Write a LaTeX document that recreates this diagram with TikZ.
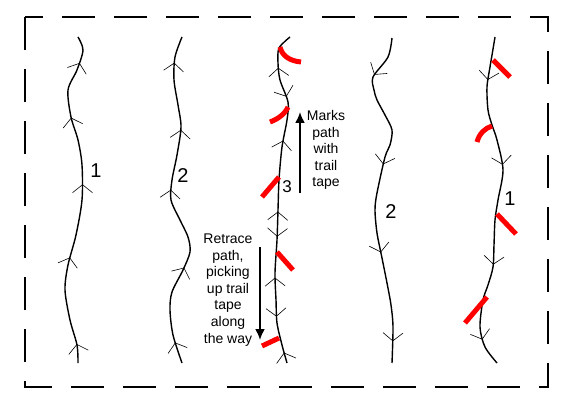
\documentclass[tikz,border=0pt]{standalone}
\usepackage{fontspec}
\setmainfont{Liberation Sans}
\usetikzlibrary{arrows.meta, decorations.markings}

\begin{document}
\begin{tikzpicture}[
  >=Latex,
  x=1pt, y=-1pt, % 按像素取坐标:原点在左上角,y 向下
  chev/.tip={Straight Barb[length=8pt, width=20pt, line width=0.6pt]},
  upmark/.style={postaction={decorate, decoration={markings,
      mark=at position #1pt with {\arrowreversed{chev}}}}},
  downmark/.style={postaction={decorate, decoration={markings,
      mark=at position #1pt with {\arrow{chev}}}}},
  trail/.style={line width=1.4pt},
  tape/.style={draw=red, line width=5pt},
  note/.style={align=center, inner sep=0pt, font=\fontsize{14}{16.6}\selectfont},
  num/.style={inner sep=0pt, font=\fontsize{20}{24}\selectfont},
  move/.style={-{Latex[length=11pt, width=10pt]}, line width=2pt}
]
  \useasboundingbox (0,0) rectangle (575,409);

  % 虚线外框
  \draw[line width=2pt, dash pattern=on 33pt off 19pt] (25,17) rectangle (548,387);

  % 五条路径(自上而下绘制,箭头标记按弧长放置)
  \draw[trail, upmark/.list={27.5,85,153,227.5,316}]
    plot[smooth] coordinates {(78,37) (83,50) (77,70) (68,90) (71,117) (78,140) (82,165)
      (82,200) (76,235) (68,265) (65,290) (70,320) (77,345) (78,363)};
  \draw[trail, upmark/.list={27,94.7,155.5,238.5,317}]
    plot[smooth] coordinates {(182,37) (175,57) (174,80) (178,105) (181,127) (177,155)
      (172,180) (171,200) (180,220) (188,237) (190,252) (183,270) (172,292) (170,310)
      (173,335) (182,363)};
  \draw[trail, upmark/.list={35.6,110.5,181.7,247.8,323.7}, downmark/.list={65.8,206.7,286.8}]
    plot[smooth] coordinates {(290,37) (279,48) (278,63) (280,80) (288,102) (287,120)
      (282,147) (279,180) (278,210) (277,240) (275,273) (276,300) (277,323) (282,345)
      (287,363)};
  \draw[trail, downmark/.list={42,137.7,227,317}]
    plot[smooth] coordinates {(392,38) (388,57) (373,77) (374,90) (377,100) (385,115)
      (392,130) (390,145) (385,157) (377,193) (375,210) (377,233) (382,258) (387,283)
      (391,305) (393,327) (392,363)};
  \draw[trail, downmark/.list={43.5,130.4,231,308}]
    plot[smooth] coordinates {(495,37) (492,55) (490,67) (487,87) (488,110) (492,125)
      (497,140) (503,170) (498,200) (495,220) (494,245) (493,267) (488,285) (483,300)
      (480,327) (485,347) (497,363)};

  % 路径编号
  \node[num] (n1) at (96,171) {1};
  \node[num] (n2) at (183,176) {2};
  \node[num, font=\fontsize{17}{20}\selectfont] (n3) at (287,187) {3};
  \node[num] (n4) at (391,212) {2};
  \node[num] (n5) at (510,199) {1};

  % 路标胶带
  \draw[tape] (280,47) .. controls (282,56) and (290,61) .. (301,62);
  \draw[tape] (270,122) .. controls (278,119) and (285,114) .. (288,107);
  \draw[tape] (262,197) -- (279,177);
  \draw[tape] (277,252) -- (293,270);
  \draw[tape] (262,346) -- (279,338);
  \draw[tape] (493,60) -- (510,77);
  \draw[tape] (477,142) .. controls (479,134) and (485,128) .. (492,126);
  \draw[tape] (497,214) -- (516,234);
  \draw[tape] (465,323) -- (487,297);

  % 说明文字与方向箭头
  \node[note] (marks) at (326,150) {Marks\\path\\with\\trail\\tape};
  \node[note] (retrace) at (228,290) {Retrace\\path,\\picking\\up trail\\tape\\along\\the way};
  \coordinate (upfrom) at (300,193);
  \coordinate (upto) at (300,112);
  \coordinate (downfrom) at (260,247);
  \coordinate (downto) at (260,340);
  \draw[move] (upfrom) -- (upto);
  \draw[move] (downfrom) -- (downto);
\end{tikzpicture}
\end{document}
